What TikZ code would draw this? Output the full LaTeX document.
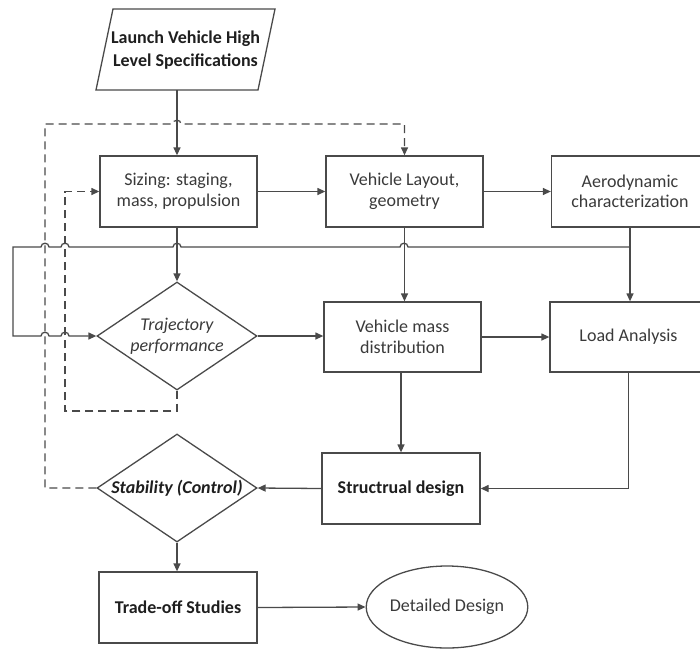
\documentclass[tikz,border=0pt]{standalone}
\usepackage{fontspec}
\setmainfont{Carlito}
\usetikzlibrary{arrows.meta,shapes.geometric}
\definecolor{linec}{HTML}{4A4A4A}
\definecolor{txt}{HTML}{3A3A3A}
\definecolor{txtb}{HTML}{1E1E1E}
\tikzset{
  ln/.style={draw=linec, line width=1.3pt},
  arr/.style={ln, -{Triangle[length=8pt,width=7pt]}},
  dsh/.style={ln, dash pattern=on 8pt off 5pt},
  dsharr/.style={dsh, -{Triangle[length=8pt,width=7pt]}},
  txtfont/.style={font=\fontsize{18}{20.5}\selectfont},
  box/.style={ln, txtfont, text=txt, align=center, inner sep=0pt,
    minimum width=157pt, minimum height=71pt},
  boldbox/.style={box, text=txtb, font=\fontsize{18}{20.5}\selectfont\bfseries},
  dia/.style={ln, diamond, txtfont, align=center, inner sep=0pt, aspect=1.48,
    minimum width=160pt, minimum height=108pt},
  ell/.style={ln, ellipse, txtfont, text=txt, inner sep=0pt,
    minimum width=158pt, minimum height=82pt}
}
\begin{document}
\begin{tikzpicture}[x=1pt,y=-1pt]
\useasboundingbox (0,0) rectangle (700,651);
\clip (0,0) rectangle (700,651);

% parallelogram input
\draw[ln] (113,9) -- (275,9) -- (258,90) -- (96,90) -- cycle;
\node[text=txtb, font=\fontsize{18}{23}\selectfont\bfseries, align=center, inner sep=0pt] (spec) at (185.5,50) {Launch Vehicle High\\Level Specifications};
\coordinate (specb) at (177,90);

% boxes
\node[box] (siz) at (178.5,191.5) {Sizing: staging,\\mass, propulsion};
\node[box] (lay) at (404.5,191.5) {Vehicle Layout,\\geometry};
\node[box] (aer) at (630,191.5) {Aerodynamic\\characterization};
\node[dia, text=txt, font=\fontsize{18}{20.5}\selectfont\itshape] (traj) at (177,336) {Trajectory\\performance};
\node[box, minimum height=70pt] (mass) at (402.5,337) {Vehicle mass\\distribution};
\node[box, minimum height=70pt] (load) at (628.5,337) {Load Analysis};
\node[dia, text=txtb, font=\fontsize{18}{20.5}\selectfont\bfseries\itshape] (stab) at (177,488) {Stability (Control)};
\node[boldbox, minimum width=158pt] (str) at (401,488.5) {Structrual design};
\node[boldbox, minimum width=158pt] (trd) at (178,607.5) {Trade-off Studies};
\node[ell] (det) at (447,607) {Detailed Design};

% solid connectors
\draw[arr] (specb) -- (specb |- siz.north);
\draw[arr] (siz.east) -- (lay.west);
\draw[arr] (lay.east) -- (aer.west);
\draw[arr] (aer.south) -- (aer.south |- load.north);
\coordinate (j1) at (630,247);
\draw[arr] (j1) -- (408,247) .. controls (408,242) and (400,242) .. (400,247)
  -- (181,247) .. controls (181,242) and (173,242) .. (173,247)
  -- (69,247) .. controls (69,242) and (61,242) .. (61,247)
  -- (49,247) .. controls (49,242) and (41,242) .. (41,247)
  -- (13,247) -- (13,336)
  -- (41,336) .. controls (41,331) and (49,331) .. (49,336)
  -- (61,336) .. controls (61,331) and (69,331) .. (69,336)
  -- (traj.west);
\draw[arr] (siz.south -| traj.north) -- (traj.north);
\draw[arr] (lay.south) -- (lay.south |- mass.north);
\draw[arr] (traj.east) -- (traj.east -| mass.west);
\draw[arr] (mass.east) -- (mass.east -| load.west);
\draw[arr] (mass.south -| str.north) -- (str.north);
\draw[arr] (load.south) |- (str.east);
\draw[arr] (str.west) -- (stab.east);
\draw[arr] (stab.south) -- (stab.south |- trd.north);
\draw[arr] (trd.east) -- (det.west);

% dashed feedback
\draw[dsharr] (traj.south) -- (177,411) -- (65,411) -- (65,191.5) -- (siz.west);
\draw[dsharr] (stab.west) -- (45,488) -- (45,124)
  -- (173,124) .. controls (173,119) and (181,119) .. (181,124)
  -- (lay.north |- 0,124) -- (lay.north);
\end{tikzpicture}
\end{document}
